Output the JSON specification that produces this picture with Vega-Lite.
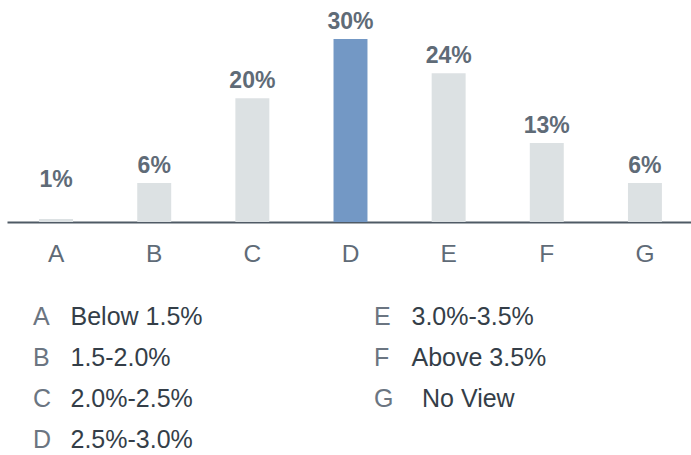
{
  "$schema": "https://vega.github.io/schema/vega-lite/v6.json",
  "padding": {"left": 7, "top": 0, "right": 0, "bottom": 0},
  "background": "white",
  "config": {"view": {"stroke": null}, "font": "Liberation Sans"},
  "spacing": 30,
  "data": {
    "values": [
      {"cat": "A", "value": 0.5, "label": "1%", "desc": "Below 1.5%", "col": 1, "row": 1},
      {"cat": "B", "value": 6.4, "label": "6%", "desc": "1.5-2.0%", "col": 1, "row": 2},
      {"cat": "C", "value": 20.3, "label": "20%", "desc": "2.0%-2.5%", "col": 1, "row": 3},
      {"cat": "D", "value": 30.0, "label": "30%", "desc": "2.5%-3.0%", "col": 1, "row": 4},
      {"cat": "E", "value": 24.4, "label": "24%", "desc": "3.0%-3.5%", "col": 2, "row": 1},
      {"cat": "F", "value": 12.95, "label": "13%", "desc": "Above 3.5%", "col": 2, "row": 2},
      {"cat": "G", "value": 6.4, "label": "6%", "desc": "No View", "col": 2, "row": 3}
    ]
  },
  "vconcat": [
    {
      "width": 687,
      "height": 222,
      "encoding": {
        "x": {
          "field": "cat",
          "type": "nominal",
          "scale": {"paddingInner": 0.654, "paddingOuter": 0.327},
          "axis": {
            "title": null,
            "labelAngle": 0,
            "ticks": false,
            "tickSize": 0,
            "labelPadding": 20,
            "labelFontSize": 24.5,
            "labelFont": "Liberation Sans",
            "labelColor": "#5f6b77",
            "domainColor": "#4f5a65",
            "domainWidth": 2
          }
        }
      },
      "layer": [
        {
          "mark": {"type": "bar"},
          "encoding": {
            "y": {"field": "value", "type": "quantitative", "scale": {"domain": [0, 36.4], "nice": false}, "axis": null},
            "color": {"condition": {"test": "datum.cat === 'D'", "value": "#7398c5"}, "value": "#dce1e3"}
          }
        },
        {
          "transform": [{"calculate": "max(datum.value, 4.1)", "as": "labelPos"}],
          "mark": {"type": "text", "baseline": "alphabetic", "dy": -10, "fontSize": 23, "fontWeight": "bold", "color": "#5f6b77", "font": "Liberation Sans"},
          "encoding": {
            "y": {"field": "labelPos", "type": "quantitative"},
            "text": {"field": "label"}
          }
        }
      ]
    },
    {
      "width": 684,
      "height": 164,
      "encoding": {
        "x": {"field": "col", "type": "quantitative", "scale": {"domain": [1, 2], "range": [26, 367]}, "axis": null},
        "y": {"field": "row", "type": "quantitative", "scale": {"domain": [0.5, 4.5], "reverse": true, "nice": false, "zero": false}, "axis": null}
      },
      "layer": [
        {
          "mark": {"type": "text", "align": "left", "baseline": "middle", "fontSize": 25, "color": "#6b7581", "font": "Liberation Sans"},
          "encoding": {"text": {"field": "cat"}}
        },
        {
          "transform": [{"filter": "datum.cat !== 'G'"}],
          "mark": {"type": "text", "align": "left", "baseline": "middle", "dx": 37.5, "fontSize": 25, "color": "#343e48", "font": "Liberation Sans"},
          "encoding": {"text": {"field": "desc"}}
        },
        {
          "transform": [{"filter": "datum.cat === 'G'"}],
          "mark": {"type": "text", "align": "left", "baseline": "middle", "dx": 48, "fontSize": 25, "color": "#343e48", "font": "Liberation Sans"},
          "encoding": {"text": {"field": "desc"}}
        }
      ]
    }
  ]
}
